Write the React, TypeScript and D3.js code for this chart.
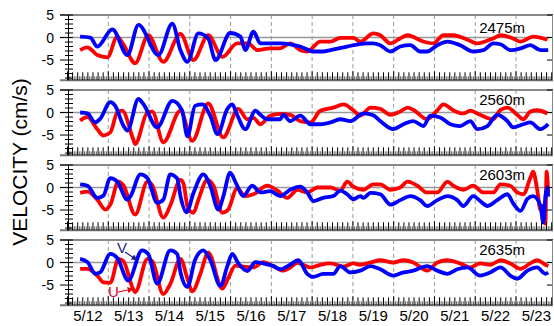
import React from 'react';
import * as d3 from 'd3';

const W = 554;
const H = 326;

const dayLabels = ['5/12', '5/13', '5/14', '5/15', '5/16', '5/17', '5/18', '5/19', '5/20', '5/21', '5/22', '5/23'];
const depthLabels = ['2475m', '2560m', '2603m', '2635m'];
const yTickValues = [5, 0, -5];
const yLabel = 'VELOCITY (cm/s)';

// [day since 5/12 00:00, cm/s]
const u2475: [number, number][] = [[0.31,-2.8],[0.49,-2.2],[0.56,-2.5],[0.73,-3.9],[0.98,-4.4],[1.22,0.2],[1.37,-1.5],[1.66,-5.7],[1.98,0.5],[2.35,-5.4],[2.77,0.8],[3.09,-5.0],[3.45,0.5],[3.80,-4.3],[4.16,-1.3],[4.43,-1.3],[4.66,-2.8],[4.97,-2.4],[5.22,-2.4],[5.46,-1.3],[5.71,-2.8],[5.88,-3.1],[6.20,-0.9],[6.45,-0.9],[6.69,-0.1],[7.01,-0.1],[7.18,-0.9],[7.50,0.9],[7.67,0.5],[7.92,-1.3],[8.16,-0.2],[8.34,0.5],[8.73,-0.9],[8.97,-1.3],[9.22,0.5],[9.46,0.5],[9.81,-0.5],[10.05,-1.3],[10.44,-0.2],[10.62,0.5],[10.93,-0.2],[11.11,-0.9],[11.42,0.2],[11.77,-0.5]];
const v2475: [number, number][] = [[0.31,0.2],[0.56,0],[0.73,-2.0],[1.10,1.8],[1.47,-3.9],[1.74,2.8],[2.23,-3.9],[2.57,3.1],[2.77,-2.8],[2.94,-5.4],[3.21,0.9],[3.45,-0.2],[3.63,-5.0],[3.99,1.0],[4.24,0.2],[4.36,-2.8],[4.56,1.3],[4.73,-1.3],[5.22,-1.3],[5.46,-1.5],[5.71,-2.0],[6.03,-3.1],[6.27,-3.1],[6.45,-2.8],[6.86,-2.0],[7.35,-1.3],[7.50,-1.3],[7.67,-1.7],[7.92,-3.1],[8.16,-2.0],[8.41,-1.7],[8.65,-3.1],[8.82,-3.1],[9.07,-1.7],[9.32,-0.9],[9.63,-1.7],[9.95,-3.1],[10.20,-2.8],[10.44,-1.3],[10.62,-1.5],[10.86,-2.8],[11.11,-2.4],[11.35,-1.7],[11.60,-2.8],[11.79,-2.8]];

const u2560: [number, number][] = [[0.31,-1.8],[0.49,-1.0],[0.73,-3.7],[0.88,-5.1],[1.05,-4.4],[1.22,0],[1.34,0.4],[1.61,-5.9],[1.66,-7.0],[1.96,0],[2.08,0.2],[2.35,-6.6],[2.77,0.4],[3.06,-6.3],[3.45,2.0],[3.82,-5.5],[4.19,0.8],[4.41,-1.5],[4.56,-1.2],[4.73,-2.6],[4.97,-0.7],[5.22,-0.3],[5.46,-0.5],[5.71,-1.9],[5.96,-2.2],[6.20,0.4],[6.52,1.1],[6.77,1.8],[7.01,0.5],[7.18,-0.7],[7.43,1.1],[7.67,0.8],[7.92,-0.5],[8.16,0.2],[8.34,1.1],[8.48,0.6],[8.82,-1.5],[9.07,0.5],[9.22,1.8],[9.46,0.5],[9.71,-0.2],[9.88,0.4],[10.12,-0.5],[10.44,-1.5],[10.62,0.6],[10.79,1.1],[11.03,-0.5],[11.18,-1.5],[11.35,0.2],[11.52,0.5],[11.77,-0.2]];
const v2560: [number, number][] = [[0.31,0],[0.49,-0.2],[0.68,-2.2],[0.80,-1.4],[1.05,2.3],[1.17,1.5],[1.37,-2.9],[1.47,-4.0],[1.74,3.0],[1.86,1.9],[2.20,-3.3],[2.57,2.6],[2.81,0.5],[2.94,-5.3],[3.13,1.5],[3.31,1.8],[3.50,-0.7],[3.68,-4.8],[3.92,0.8],[4.04,1.8],[4.16,-0.5],[4.36,-3.7],[4.61,0.4],[4.73,-0.5],[4.90,-1.5],[5.22,-1.5],[5.29,-0.5],[5.46,-1.9],[5.71,-0.7],[5.96,-2.6],[6.20,-2.6],[6.45,-2.2],[6.69,-1.5],[6.94,-1.9],[7.26,-0.2],[7.50,-0.6],[7.67,-1.9],[7.99,-3.7],[8.24,-2.6],[8.48,-1.9],[8.73,-3.0],[8.90,-0.7],[9.14,-1.1],[9.39,-2.6],[9.63,-3.0],[9.88,-1.9],[10.05,-3.7],[10.30,-3.0],[10.54,-0.5],[10.79,-1.9],[10.93,-3.3],[11.18,-2.6],[11.35,-2.2],[11.60,-3.7],[11.79,-2.6]];

const u2603: [number, number][] = [[0.31,-1.2],[0.49,-0.9],[0.73,-2.7],[0.93,-4.9],[1.05,-3.8],[1.25,1.3],[1.37,0.5],[1.66,-6.0],[1.96,1.3],[2.08,0.5],[2.35,-6.7],[2.52,-4.0],[2.77,1.7],[2.84,1.0],[2.96,-4.9],[3.09,-5.6],[3.21,-2.7],[3.43,1.7],[3.58,0.4],[3.80,-5.6],[3.94,-4.9],[4.16,-0.2],[4.36,-1.9],[4.56,-1.5],[4.90,0.4],[5.15,-0.7],[5.39,-2.3],[5.64,-0.5],[5.88,-1.1],[6.13,0],[6.45,0],[6.69,-0.7],[6.86,1.3],[7.01,0.2],[7.26,-0.5],[7.50,0.7],[7.67,0.7],[7.92,-0.5],[8.16,0],[8.34,1.3],[8.58,0.4],[8.82,-1.1],[9.07,-1.1],[9.32,1.3],[9.46,0.4],[9.71,-0.5],[9.95,0.4],[10.20,-1.1],[10.44,-1.1],[10.62,0.7],[10.86,0.4],[11.03,-1.1],[11.18,-1.5],[11.35,2.1],[11.42,3.5],[11.52,-0.5],[11.60,-5.0],[11.67,-4.0],[11.72,-8.0],[11.75,3.5],[11.79,-1.0]];
const v2603: [number, number][] = [[0.31,0.7],[0.49,0.4],[0.73,-2.3],[0.88,-1.8],[1.05,2.1],[1.22,1.3],[1.47,-2.7],[1.54,-2.0],[1.79,2.9],[1.96,2.1],[2.20,-3.4],[2.35,-2.7],[2.52,2.9],[2.69,2.0],[2.77,-1.9],[2.92,-5.5],[3.09,-1.2],[3.33,2.9],[3.50,0.4],[3.70,-4.9],[3.82,-2.0],[3.99,3.3],[4.12,1.2],[4.31,-1.9],[4.53,0.4],[4.73,-1.1],[4.97,-0.8],[5.22,-1.9],[5.46,-0.5],[5.71,0.2],[5.88,-1.1],[6.03,-3.0],[6.27,-2.3],[6.52,-1.9],[6.69,-0.7],[6.86,-1.5],[7.01,-2.6],[7.18,-1.9],[7.26,-2.3],[7.43,-1.2],[7.67,-1.5],[7.92,-3.8],[8.16,-2.8],[8.41,-1.9],[8.65,-2.8],[8.82,-4.1],[9.07,-2.8],[9.32,-1.9],[9.56,-2.8],[9.71,-4.1],[9.95,-1.9],[10.12,-3.0],[10.30,-4.1],[10.54,-2.8],[10.79,-1.5],[10.93,-3.5],[11.11,-5.2],[11.28,-2.5],[11.42,-1.9],[11.60,-4.0],[11.67,-7.8],[11.72,-2.0],[11.77,0],[11.79,-2.0]];

const u2635: [number, number][] = [[0.31,-1.4],[0.49,-1.4],[0.73,-2.9],[0.88,-4.4],[1.05,-4.5],[1.25,0.8],[1.37,0.3],[1.61,-5.9],[1.66,-6.6],[1.96,0.8],[2.08,0.3],[2.35,-7.0],[2.52,-4.8],[2.77,0.8],[2.94,-3.5],[3.06,-6.4],[3.26,-2.5],[3.45,2.2],[3.80,-5.8],[3.94,-3.5],[4.12,-0.7],[4.31,-0.9],[4.56,-1.1],[4.80,0.1],[5.05,-0.8],[5.29,-1.8],[5.46,-1.1],[5.64,-0.1],[5.78,-0.5],[5.96,-1.1],[6.20,-0.5],[6.45,-0.2],[6.77,-0.9],[7.01,-0.2],[7.18,-0.5],[7.43,0],[7.67,0.5],[7.99,0],[8.24,0.5],[8.48,0],[8.82,-1.8],[9.07,0],[9.32,0.5],[9.63,-0.2],[9.88,-1.1],[10.12,-0.2],[10.37,-0.5],[10.62,0.5],[10.86,-0.2],[11.11,-1.4],[11.35,-0.2],[11.52,0.5],[11.72,-0.5],[11.79,-0.8]];
const v2635: [number, number][] = [[0.31,0.8],[0.49,0.1],[0.68,-2.5],[0.80,-2.2],[1.05,1.9],[1.22,1.0],[1.49,-4.0],[1.83,2.7],[1.98,1.9],[2.20,-4.7],[2.52,2.7],[2.69,1.9],[2.77,-2.1],[2.94,-5.4],[3.13,0.6],[3.33,2.7],[3.50,0.6],[3.75,-5.2],[3.92,-0.8],[4.04,1.9],[4.19,-0.2],[4.41,-1.9],[4.61,0.1],[4.80,-0.2],[5.05,-0.8],[5.22,-1.5],[5.46,-0.5],[5.66,0.5],[5.88,-2.5],[6.03,-3.2],[6.27,-2.5],[6.52,-2.5],[6.69,-0.8],[6.94,-2.2],[7.18,-1.8],[7.43,-0.8],[7.67,-1.5],[7.99,-2.9],[8.24,-2.2],[8.48,-1.8],[8.82,-0.8],[9.07,-1.8],[9.32,-2.5],[9.56,-1.5],[9.81,-1.1],[10.12,-2.9],[10.37,-2.2],[10.62,-1.1],[10.86,-2.9],[11.03,-3.6],[11.28,-1.8],[11.52,-1.1],[11.72,-2.5],[11.79,-2.2]];

const uSeries = [u2475, u2560, u2603, u2635];
const vSeries = [v2475, v2560, v2603, v2635];

const FONT = 'Liberation Sans, Arial, sans-serif';
const RED = '#ff0000';
const BLUE = '#0000ff';

export default function App() {
  const x = d3.scaleLinear().domain([0, 11.9]).range([67.5, 552.7]);
  const panelTops = [15, 90, 165, 240];
  const panelH = 65.3;
  const axisLeft = 60;
  const axisRight = 553;

  const hourTicks = d3.range(0, 11.9 * 24 + 0.01, 1);

  return (
    <div style={{ position: 'absolute', left: 0, top: 0 }}>
      <svg width={W} height={H} style={{ display: 'block', background: '#fff' }}>
        <text
          transform={`translate(27,162) rotate(-90)`}
          textAnchor="middle"
          fontFamily={FONT}
          fontSize={21}
          fill="#000"
        >
          {yLabel}
        </text>
        {panelTops.map((top, i) => {
          const y = d3.scaleLinear().domain([-9.5, 5]).range([top + panelH, top]);
          const line = d3
            .line<[number, number]>()
            .x((d) => x(d[0]))
            .y((d) => y(d[1]))
            .curve(d3.curveMonotoneX);
          const bottom = top + panelH;
          return (
            <g key={i}>
              {d3.range(1, 12).map((d) => (
                <line
                  key={d}
                  x1={x(d)}
                  x2={x(d)}
                  y1={top}
                  y2={bottom}
                  stroke="#9a9a9a"
                  strokeWidth={1}
                  strokeDasharray="4,3"
                />
              ))}
              <line x1={axisLeft} x2={axisRight} y1={y(0)} y2={y(0)} stroke="#999" strokeWidth={1.5} />
              <path d={line(uSeries[i]) || ''} fill="none" stroke={RED} strokeWidth={3.8} strokeLinejoin="round" />
              <path d={line(vSeries[i]) || ''} fill="none" stroke={BLUE} strokeWidth={3.8} strokeLinejoin="round" />
              <line x1={axisLeft} x2={axisRight} y1={top} y2={top} stroke="#888" strokeWidth={2} />
              <line x1={axisLeft} x2={axisRight} y1={bottom} y2={bottom} stroke="#777" strokeWidth={2} />
              <line x1={x(0) + 1} x2={x(0) + 1} y1={top} y2={bottom} stroke="#000" strokeWidth={1} />
              {d3.range(-9, 6).map((v) => (
                <line
                  key={v}
                  x1={yTickValues.includes(v) ? axisLeft : 65}
                  x2={73}
                  y1={y(v)}
                  y2={y(v)}
                  stroke="#000"
                  strokeWidth={1}
                />
              ))}
              {yTickValues.map((v) => (
                <line key={'r' + v} x1={547} x2={axisRight} y1={y(v)} y2={y(v)} stroke="#000" strokeWidth={1} />
              ))}
              <line x1={axisRight - 0.5} x2={axisRight - 0.5} y1={top} y2={bottom} stroke="#888" strokeWidth={1} />
              {hourTicks.map((h) => {
                const len = h % 24 === 0 ? 9 : h % 3 === 0 ? 8 : 4;
                return (
                  <line
                    key={'h' + h}
                    x1={x(h / 24)}
                    x2={x(h / 24)}
                    y1={bottom}
                    y2={bottom - len}
                    stroke="#000"
                    strokeWidth={h % 3 === 0 ? 1 : 0.6}
                  />
                );
              })}
              {yTickValues.map((v) => (
                <text
                  key={'l' + v}
                  x={54}
                  y={y(v)}
                  dy="0.36em"
                  textAnchor="end"
                  fontFamily={FONT}
                  fontSize={14}
                  fill="#000"
                >
                  {v}
                </text>
              ))}
              <text x={525} y={top + (i === 0 ? 18 : 15)} textAnchor="end" fontFamily={FONT} fontSize={15} fill="#000">
                {depthLabels[i]}
              </text>
            </g>
          );
        })}
        <defs>
          <marker id="arrV" viewBox="0 0 10 10" refX="9" refY="5" markerWidth="5" markerHeight="5" orient="auto">
            <path d="M0,0 L10,5 L0,10 z" fill="#1c1c8a" />
          </marker>
          <marker id="arrU" viewBox="0 0 10 10" refX="9" refY="5" markerWidth="5" markerHeight="5" orient="auto">
            <path d="M0,0 L10,5 L0,10 z" fill="#e0001a" />
          </marker>
        </defs>
        <text x={117} y={253} fontFamily={FONT} fontSize={15} fill="#1c1c8a">V</text>
        <line x1={125} y1={252} x2={137} y2={260} stroke="#1c1c8a" strokeWidth={1.2} markerEnd="url(#arrV)" />
        <text x={108} y={297} fontFamily={FONT} fontSize={15} fill="#e0001a">U</text>
        <line x1={118} y1={292} x2={133} y2={289} stroke="#e0001a" strokeWidth={1.2} markerEnd="url(#arrU)" />
        {dayLabels.map((d, i) => (
          <text
            key={d}
            x={x(i + 0.5)}
            y={321}
            textAnchor="middle"
            fontFamily={FONT}
            fontSize={15}
            fill="#000"
          >
            {d}
          </text>
        ))}
      </svg>
    </div>
  );
}
